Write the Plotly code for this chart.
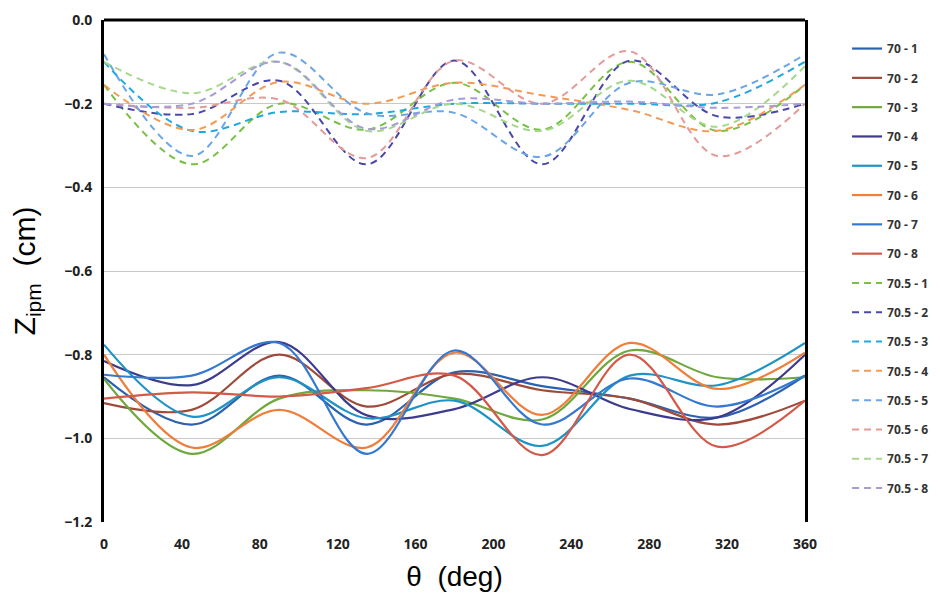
import plotly.graph_objects as go

# angle grid (deg)
theta = [0, 45, 90, 135, 180, 225, 270, 315, 360]

# solid curves, Zipm in cm
z70_1 = [-0.854, -0.967, -0.850, -0.967, -0.842, -0.875, -0.905, -0.950, -0.850]
z70_2 = [-0.916, -0.932, -0.800, -0.924, -0.846, -0.885, -0.905, -0.967, -0.910]
z70_3 = [-0.858, -1.037, -0.905, -0.885, -0.905, -0.955, -0.790, -0.854, -0.854]
z70_4 = [-0.815, -0.873, -0.770, -0.945, -0.930, -0.854, -0.930, -0.950, -0.800]
z70_5 = [-0.776, -0.948, -0.854, -0.952, -0.910, -1.018, -0.850, -0.873, -0.772]
z70_6 = [-0.800, -1.022, -0.932, -1.022, -0.795, -0.944, -0.772, -0.882, -0.795]
z70_7 = [-0.848, -0.850, -0.772, -1.037, -0.790, -0.967, -0.857, -0.924, -0.850]
z70_8 = [-0.905, -0.890, -0.900, -0.880, -0.850, -1.040, -0.800, -1.020, -0.910]

# dashed curves
z705_1 = [-0.155, -0.345, -0.200, -0.262, -0.150, -0.262, -0.100, -0.265, -0.155]
z705_2 = [-0.200, -0.225, -0.145, -0.345, -0.097, -0.345, -0.097, -0.230, -0.200]
z705_3 = [-0.100, -0.265, -0.220, -0.225, -0.200, -0.200, -0.200, -0.197, -0.100]
z705_4 = [-0.155, -0.263, -0.148, -0.200, -0.150, -0.180, -0.215, -0.265, -0.155]
z705_5 = [-0.082, -0.325, -0.078, -0.223, -0.222, -0.327, -0.150, -0.178, -0.082]
z705_6 = [-0.200, -0.210, -0.190, -0.330, -0.097, -0.200, -0.075, -0.325, -0.200]
z705_7 = [-0.100, -0.175, -0.100, -0.265, -0.200, -0.265, -0.145, -0.255, -0.110]
z705_8 = [-0.200, -0.200, -0.100, -0.260, -0.190, -0.200, -0.195, -0.210, -0.200]

names = ["70 - 1", "70 - 2", "70 - 3", "70 - 4", "70 - 5", "70 - 6", "70 - 7", "70 - 8",
         "70.5 - 1", "70.5 - 2", "70.5 - 3", "70.5 - 4", "70.5 - 5", "70.5 - 6", "70.5 - 7", "70.5 - 8"]
series = [z70_1, z70_2, z70_3, z70_4, z70_5, z70_6, z70_7, z70_8,
          z705_1, z705_2, z705_3, z705_4, z705_5, z705_6, z705_7, z705_8]
colors = ["#2a62b0", "#9e4a3a", "#6fa83c", "#3d3b8e", "#1f93c4", "#ee7e3a", "#3478cf", "#d35a48",
          "#78c043", "#4a48a8", "#1fa7e0", "#f59a52", "#6aa6e6", "#e39a98", "#a5d88a", "#a79ad8"]

fig = go.Figure()
for name, z, col in zip(names, series, colors):
    dashed = name.startswith("70.5")
    fig.add_trace(go.Scatter(
        x=theta, y=z, name=name, mode="lines",
        legendgroup=name,
        line=dict(color=col, width=2 if dashed else 2.2, shape="spline", smoothing=1.0,
                  dash="7px,5px" if dashed else "solid"),
    ))

# top border of the frame
fig.add_shape(type="line", xref="paper", yref="paper", x0=0, x1=1, y0=1, y1=1,
              line=dict(color="black", width=3))

fig.update_xaxes(
    range=[0, 360], tickvals=[0, 40, 80, 120, 160, 200, 240, 280, 320, 360],
    showgrid=False, zeroline=False, showline=False, automargin=False,
    ticklabelstandoff=12,
    tickfont=dict(family="Open Sans", size=14, color="#222", weight="bold"),
    title=dict(text="θ  (deg)", font=dict(family="Liberation Sans", size=28, color="black"), standoff=14),
)
fig.update_yaxes(
    range=[-1.2, 0], tickvals=[0, -0.2, -0.4, -0.6, -0.8, -1.0, -1.2], tickformat=".1f",
    showgrid=True, gridcolor="#c9c9c9", gridwidth=1, zeroline=False,
    showline=True, mirror=True, linecolor="black", linewidth=3, automargin=False,
    ticklabelstandoff=6, ticklabeloverflow="allow",
    tickfont=dict(family="Open Sans", size=14, color="#222", weight="bold"),
    title=dict(text="Z<sub>ipm</sub>  (cm)", font=dict(family="Liberation Sans", size=30, color="black"), standoff=20),
)

fig.update_layout(
    width=940, height=610,
    margin=dict(l=96, r=143, t=12, b=96),
    plot_bgcolor="white", paper_bgcolor="white",
    showlegend=True,
    legend=dict(x=1.06, y=0.972, xanchor="left", yanchor="top",
                font=dict(family="Open Sans", size=12, color="#333", weight="bold"),
                tracegroupgap=10.3, bgcolor="rgba(0,0,0,0)"),
)

fig.write_html("out.html")
